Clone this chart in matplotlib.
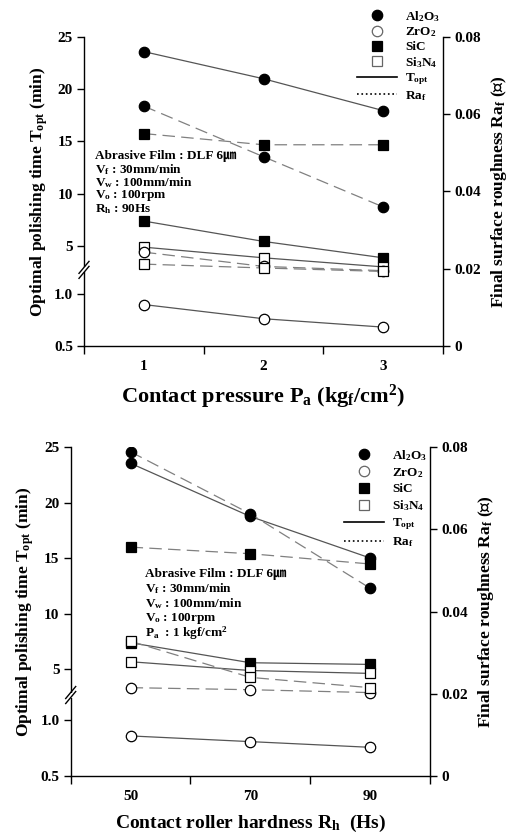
import numpy as np
import matplotlib
matplotlib.use('Agg')
import matplotlib.pyplot as plt
from matplotlib.lines import Line2D

plt.rcParams['font.family'] = ['Liberation Serif', 'Noto Sans CJK JP']
plt.rcParams['font.weight'] = 'bold'
plt.rcParams['axes.labelweight'] = 'bold'
plt.rcParams['mathtext.fontset'] = 'custom'
plt.rcParams['mathtext.rm'] = 'Liberation Serif:bold'
plt.rcParams['mathtext.bf'] = 'Liberation Serif:bold'
plt.rcParams['mathtext.it'] = 'Liberation Serif:bold:italic'
plt.rcParams['mathtext.default'] = 'rm'

# --- data: contact pressure chart ---
pressure = [1, 2, 3]
al2o3_topt_p = [23.6, 21.0, 17.95]
zro2_topt_p = [0.895, 0.76, 0.68]
sic_topt_p = [7.37, 5.42, 3.85]
si3n4_topt_p = [4.87, 3.85, 2.98]
al2o3_ra_p = [0.0621, 0.0490, 0.0360]
zro2_ra_p = [0.0243, 0.0206, 0.0195]
sic_ra_p = [0.0550, 0.0521, 0.0521]
si3n4_ra_p = [0.0212, 0.0202, 0.0193]

# --- data: roller hardness chart ---
hardness = [50, 70, 90]
al2o3_topt_h = [23.56, 18.77, 15.03]
zro2_topt_h = [0.859, 0.808, 0.757]
sic_topt_h = [7.4, 5.6, 5.45]
si3n4_topt_h = [5.69, 4.9, 4.64]
al2o3_ra_h = [0.0789, 0.0638, 0.0457]
zro2_ra_h = [0.0215, 0.0210, 0.0203]
sic_ra_h = [0.0557, 0.0541, 0.0516]
si3n4_ra_h = [0.0328, 0.0240, 0.0215]

materials = ['Al$_2$O$_3$', 'ZrO$_2$', 'SiC', 'Si$_3$N$_4$']
left_ticks = [0.5, 1.0, 5, 10, 15, 20, 25]
left_ticklabels = ['0.5', '1.0', '5', '10', '15', '20', '25']
right_ticks = [0, 0.02, 0.04, 0.06, 0.08]
right_ticklabels = ['0', '0.02', '0.04', '0.06', '0.08']

notes_p = ['Abrasive Film : DLF 6㎛', 'V$_f$ : 30mm/min', 'V$_w$ : 100mm/min',
           'V$_o$ : 100rpm', 'R$_h$ : 90Hs']
notes_h = ['Abrasive Film : DLF 6㎛', 'V$_f$ : 30mm/min', 'V$_w$ : 100mm/min',
           'V$_o$ : 100rpm', 'P$_a$  : 1 kgf/cm$^2$']

# broken left axis: piecewise linear scale
B1, B2 = 1.22, 2.75
P1 = 2 * (B1 - 0.5)
P2 = 1.91 + (B2 - 5) * 0.199


def fwd(v):
    v = np.asarray(v, float)
    lo = 2 * (v - 0.5)
    hi = 1.91 + (v - 5) * 0.199
    mid = P1 + (v - B1) * (P2 - P1) / (B2 - B1)
    return np.where(v <= B1, lo, np.where(v >= B2, hi, mid))


def inv(p):
    p = np.asarray(p, float)
    lo = p / 2 + 0.5
    hi = (p - 1.91) / 0.199 + 5
    mid = B1 + (p - P1) * (B2 - B1) / (P2 - P1)
    return np.where(p <= P1, lo, np.where(p >= P2, hi, mid))


markers = [dict(marker='o', mfc='black', mec='black'),
           dict(marker='o', mfc='white', mec='black'),
           dict(marker='s', mfc='black', mec='black'),
           dict(marker='s', mfc='white', mec='black')]


def draw_break(fig, ax):
    y = ax.transAxes.inverted().transform(ax.transData.transform((ax.get_xlim()[0], (B1 + B2) / 2)))[1]
    bb = ax.get_window_extent()
    dx = 5.0 / bb.width
    dy = 6.0 / bb.height
    gap = 2.5 / bb.height
    ax.plot([0, 0], [y - gap, y + gap], transform=ax.transAxes, color='white', lw=3,
            clip_on=False, zorder=5, solid_capstyle='butt')
    for off in (-gap, gap):
        ax.plot([-dx, dx], [y + off - dy, y + off + dy], transform=ax.transAxes,
                color='black', lw=1, clip_on=False, zorder=6)


def make_panel(fig, rect, xs, topts, ras, xlim, xticks, minor, xlabel, xlabel_size,
               notes, note_xy, note_step, legend_anchor, leg_spacing):
    ax = fig.add_axes(rect)
    ax.set_yscale('function', functions=(fwd, inv))
    ax.set_ylim(0.5, 25)
    ax.set_xlim(*xlim)
    ax2 = ax.twinx()
    ax2.set_ylim(0, 0.08)

    for t, m in zip(topts, markers):
        ax.plot(xs, t, color='#555555', lw=0.9, ms=7.5, mew=0.9, **m)
    for r, m in zip(ras, markers):
        ax2.plot(xs, r, color='#808080', lw=0.9, dashes=(10, 5), ms=7.5, mew=0.9, **m)

    ax.set_yticks(left_ticks)
    ax.set_yticklabels(left_ticklabels)
    ax.yaxis.set_minor_locator(matplotlib.ticker.NullLocator())
    ax2.set_yticks(right_ticks)
    ax2.set_yticklabels(right_ticklabels)
    ax.set_xticks(xticks)
    ax.set_xticks(minor, minor=True)
    ax.tick_params(axis='x', which='major', length=0, pad=10, labelsize=11)
    ax.tick_params(axis='x', which='minor', length=6, width=1, direction='out')
    ax.tick_params(axis='y', length=5, width=1, direction='out', labelsize=11, pad=3)
    ax2.tick_params(axis='y', length=5, width=1, direction='out', labelsize=11, pad=3)

    for s in ['top', 'right']:
        ax.spines[s].set_visible(False)
    for s in ['top', 'left', 'bottom']:
        ax2.spines[s].set_visible(False)
    for a in (ax, ax2):
        for s in a.spines.values():
            s.set_linewidth(1)

    ax.set_ylabel('Optimal polishing time T$_{opt}$ (min)', fontsize=12.5, labelpad=3)
    ax2.set_ylabel('Final surface roughness Ra$_f$ (㎛)', fontsize=12.5, labelpad=6)
    ax.set_xlabel(xlabel, fontsize=xlabel_size, labelpad=7)

    for i, line in enumerate(notes):
        fig.text(note_xy[0], note_xy[1] - i * note_step, line, fontsize=9.5, va='center')

    handles = [Line2D([], [], ls='none', ms=7.5, mew=0.9, **m) for m in markers]
    handles[1].set_markeredgecolor('#666666')
    handles[3].set_markeredgecolor('#666666')
    handles += [Line2D([], [], color='black', lw=1.2, ls='-'),
                Line2D([], [], color='black', lw=1.2, ls=':')]
    labels = materials + ['T$_{opt}$', 'Ra$_f$']
    leg = ax2.legend(handles, labels, loc='upper right', bbox_to_anchor=legend_anchor,
                     bbox_transform=fig.transFigure, frameon=False, fontsize=9.5,
                     handlelength=3.0, labelspacing=leg_spacing, handletextpad=0.6,
                     borderpad=0, borderaxespad=0)
    leg.set_zorder(10)
    draw_break(fig, ax)
    return ax, ax2


W, H = 516, 836
fig = plt.figure(figsize=(W / 100, H / 100), dpi=100)

make_panel(fig, [84 / W, 1 - 346 / H, 359 / W, 309 / H], pressure,
           [al2o3_topt_p, zro2_topt_p, sic_topt_p, si3n4_topt_p],
           [al2o3_ra_p, zro2_ra_p, sic_ra_p, si3n4_ra_p],
           (0.5, 3.5), [1, 2, 3], [0.5, 1.5, 2.5, 3.5],
           'Contact pressure P$_a$ (kg$_f$/cm$^2$)', 16,
           notes_p, (95 / W, 1 - 156 / H), 13.3 / H, (440 / W, 1 - 9 / H), 0.13)

make_panel(fig, [70.7 / W, 1 - 776 / H, 359.3 / W, 328.7 / H], hardness,
           [al2o3_topt_h, zro2_topt_h, sic_topt_h, si3n4_topt_h],
           [al2o3_ra_h, zro2_ra_h, sic_ra_h, si3n4_ra_h],
           (40, 100), [50, 70, 90], [40, 60, 80, 100],
           'Contact roller hardness R$_h$  (Hs)', 14,
           notes_h, (145 / W, 1 - 574 / H), 14.7 / H, (427 / W, 1 - 448 / H), 0.24)

fig.savefig('out.png', dpi=100)
